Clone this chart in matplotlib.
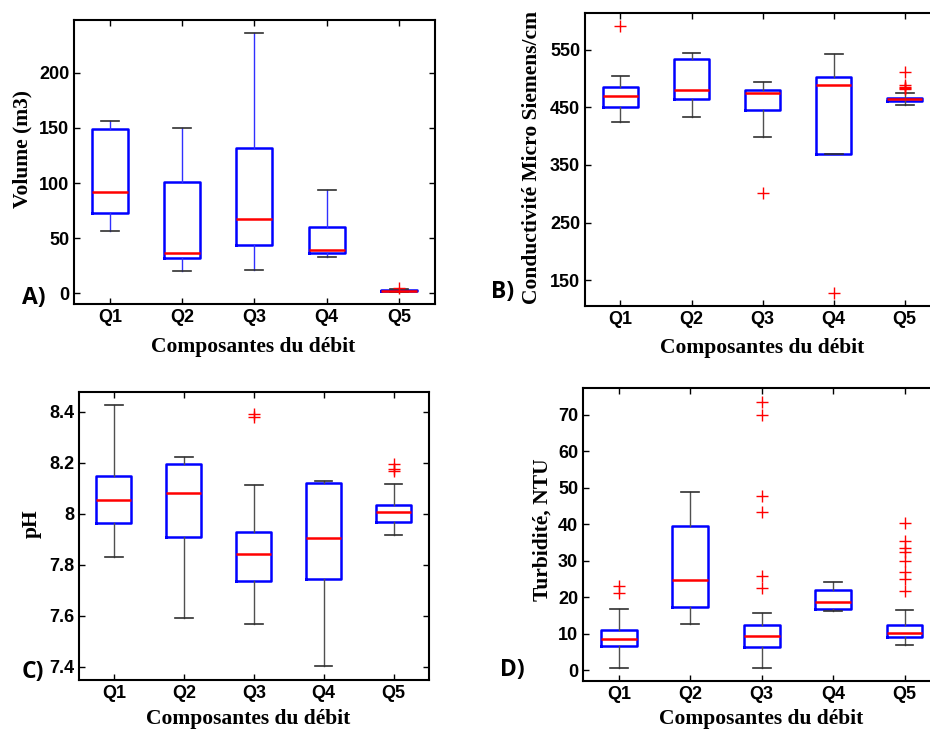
import matplotlib
matplotlib.use("Agg")
import matplotlib.pyplot as plt

cats = ["Q1", "Q2", "Q3", "Q4", "Q5"]

# each box: whisker low, q1, median, q3, whisker high
vol_lo = [56.4, 20.3, 21.2, 33.0, 1.0]
vol_q1 = [72.7, 31.8, 43.6, 36.7, 1.5]
vol_med = [91.5, 36.7, 67.6, 39.0, 2.0]
vol_q3 = [148.8, 101.0, 131.5, 60.0, 2.8]
vol_hi = [156.4, 150.0, 236.4, 94.0, 3.5]
vol_out = [[], [], [], [], [4.8]]

cond_lo = [424, 433, 398, 369, 455]
cond_q1 = [450, 464, 446, 369, 461]
cond_med = [470, 481, 475, 489, 464]
cond_q3 = [486, 534, 481, 502, 466]
cond_hi = [504, 544, 495, 542, 475]
cond_out = [[591], [], [301], [128], [512, 489, 486, 484, 482]]

ph_lo = [7.831, 7.591, 7.570, 7.404, 7.916]
ph_q1 = [7.963, 7.909, 7.736, 7.743, 7.967]
ph_med = [8.054, 8.081, 7.844, 7.905, 8.007]
ph_q3 = [8.149, 8.194, 7.929, 8.122, 8.034]
ph_hi = [8.427, 8.224, 8.112, 8.129, 8.119]
ph_out = [[], [], [8.390, 8.380], [], [8.194, 8.177, 8.168]]

turb_lo = [0.6, 12.6, 0.6, 16.2, 7.0]
turb_q1 = [6.5, 17.2, 6.2, 16.7, 9.2]
turb_med = [8.4, 24.7, 9.3, 18.7, 10.2]
turb_q3 = [11.1, 39.4, 12.4, 22.0, 12.4]
turb_hi = [16.7, 49.0, 15.7, 24.2, 16.4]
turb_out = [[23.1, 21.2], [], [73.6, 70.0, 47.9, 43.3, 25.8, 22.6], [],
            [40.4, 35.5, 33.5, 32.5, 30.0, 27.0, 24.9, 21.6]]


def make_stats(lo, q1, med, q3, hi, out):
    stats = []
    for i in range(len(cats)):
        stats.append(dict(label=cats[i], whislo=lo[i], q1=q1[i], med=med[i],
                          q3=q3[i], whishi=hi[i], fliers=out[i]))
    return stats


fig = plt.figure(figsize=(9.3, 7.31), dpi=100)

panels = [
    # stats, axes rect, ylim, yticks, ticklabels, whisker colour
    (make_stats(vol_lo, vol_q1, vol_med, vol_q3, vol_hi, vol_out),
     [0.0796, 0.584, 0.388, 0.3885], (-10, 248), [0, 50, 100, 150, 200], None, "#3030ff"),
    (make_stats(cond_lo, cond_q1, cond_med, cond_q3, cond_hi, cond_out),
     [0.629, 0.5814, 0.382, 0.4008], (105, 614), [150, 250, 350, 450, 550], None, "#505050"),
    (make_stats(ph_lo, ph_q1, ph_med, ph_q3, ph_hi, ph_out),
     [0.0849, 0.0698, 0.376, 0.394], (7.349, 8.478), [7.4, 7.6, 7.8, 8.0, 8.2, 8.4],
     ["7.4", "7.6", "7.8", "8", "8.2", "8.4"], "#505050"),
    (make_stats(turb_lo, turb_q1, turb_med, turb_q3, turb_hi, turb_out),
     [0.627, 0.0684, 0.384, 0.4008], (-3, 77.4), [0, 10, 20, 30, 40, 50, 60, 70], None, "#505050"),
]

axes = []
for stats, rect, ylim, yticks, ylabels, wcol in panels:
    ax = fig.add_axes(rect)
    ax.bxp(stats, positions=[1, 2, 3, 4, 5], widths=0.5, capwidths=0.25,
           showfliers=True,
           boxprops=dict(color="blue", linewidth=1.8),
           medianprops=dict(color="red", linewidth=1.8),
           whiskerprops=dict(color=wcol, linewidth=1.0),
           capprops=dict(color="#303030", linewidth=1.2),
           flierprops=dict(marker="+", markeredgecolor="red", markersize=8,
                           markeredgewidth=1.0, linestyle="none"))
    ax.set_xlim(0.5, 5.5)
    ax.set_ylim(*ylim)
    ax.set_yticks(yticks)
    if ylabels:
        ax.set_yticklabels(ylabels)
    ax.set_xticks([1, 2, 3, 4, 5])
    ax.set_xticklabels(cats)
    ax.tick_params(direction="in", top=True, right=True, length=4, width=1,
                   labelsize=13)
    for lab in ax.get_xticklabels() + ax.get_yticklabels():
        lab.set_fontweight("bold")
        lab.set_fontfamily("Liberation Sans")
    for sp in ax.spines.values():
        sp.set_linewidth(1.5)
    axes.append(ax)

lab_font = dict(family="Liberation Serif", weight="bold", size=15.5)
fig.text(253 / 930, 1 - 347 / 731, "Composantes du débit", ha="center", va="center", **lab_font)
fig.text(762 / 930, 1 - 348 / 731, "Composantes du débit", ha="center", va="center", **lab_font)
fig.text(248 / 930, 1 - 719 / 731, "Composantes du débit", ha="center", va="center", **lab_font)
fig.text(761 / 930, 1 - 719 / 731, "Composantes du débit", ha="center", va="center", **lab_font)

fig.text(22 / 930, 1 - 149 / 731, "Volume (m3)", rotation=90, ha="center", va="center", **lab_font)
fig.text(532 / 930, 1 - 158 / 731, "Conductivité Micro Siemens/cm", rotation=90, ha="center", va="center", **lab_font)
fig.text(32 / 930, 1 - 524 / 731, "pH", rotation=90, ha="center", va="center", **lab_font)
fig.text(543 / 930, 1 - 530 / 731, "Turbidité, NTU", rotation=90, ha="center", va="center", **lab_font)

let_font = dict(family="Open Sans", weight="bold", size=16.5)
fig.text(34 / 930, 1 - 298 / 731, "A)", ha="center", va="center", **let_font)
fig.text(503 / 930, 1 - 292 / 731, "B)", ha="center", va="center", **let_font)
fig.text(33 / 930, 1 - 672 / 731, "C)", ha="center", va="center", **let_font)
fig.text(512 / 930, 1 - 670 / 731, "D)", ha="center", va="center", **let_font)

fig.savefig("out.png", dpi=100)
